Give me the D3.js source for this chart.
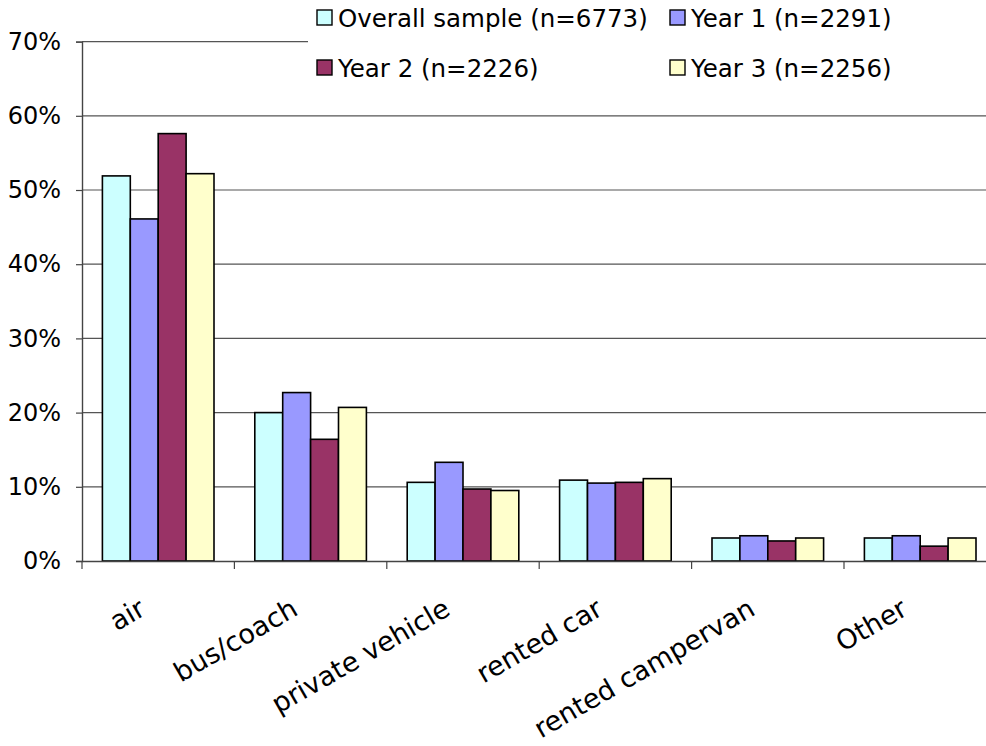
<!DOCTYPE html>
<html>
<head>
<meta charset="utf-8">
<script src="https://cdn.jsdelivr.net/npm/d3@7"></script>
<style>
  body { margin: 0; background: #fff; }
  text { font-family: "DejaVu Sans", sans-serif; fill: #000; }
</style>
</head>
<body>
<script>
// values in percent
const categories = ["air", "bus/coach", "private vehicle", "rented car", "rented campervan", "Other"];
const seriesNames = ["Overall sample (n=6773)", "Year 1 (n=2291)", "Year 2 (n=2226)", "Year 3 (n=2256)"];
const overall = [51.9, 20.0, 10.6, 10.9, 3.1, 3.1];
const year1 = [46.1, 22.7, 13.3, 10.5, 3.4, 3.4];
const year2 = [57.6, 16.4, 9.7, 10.6, 2.7, 2.0];
const year3 = [52.2, 20.7, 9.5, 11.1, 3.1, 3.1];
const yTicks = [0, 10, 20, 30, 40, 50, 60, 70];
const colors = ["#ccffff", "#9999ff", "#993366", "#ffffcc"];

const allSeries = [overall, year1, year2, year3];

const width = 986, height = 746;
const plotLeft = 82, plotBottom = 561, plotTop = 41.6;
const band = 152.4;

const svg = d3.select("body").append("svg")
    .attr("width", width)
    .attr("height", height);

const x = d3.scaleBand()
    .domain(categories)
    .range([plotLeft, plotLeft + band * categories.length])
    .padding(0);

const inner = d3.scaleBand()
    .domain(d3.range(seriesNames.length))
    .range([(band - 111.6) / 2, (band + 111.6) / 2]);

const y = d3.scaleLinear()
    .domain([0, 70])
    .range([plotBottom, plotTop]);

// gridlines
svg.append("g")
    .selectAll("line")
    .data(yTicks.slice(1))
    .enter().append("line")
    .attr("x1", plotLeft)
    .attr("x2", plotLeft + band * categories.length)
    .attr("y1", (d) => y(d))
    .attr("y2", (d) => y(d))
    .attr("stroke", "#555")
    .attr("stroke-width", 1.2);

// bars
const groups = svg.append("g")
    .selectAll("g")
    .data(categories)
    .enter().append("g")
    .attr("transform", (d) => `translate(${x(d)},0)`);

groups.selectAll("rect")
    .data((d, i) => allSeries.map((s, k) => ({ k: k, v: s[i] })))
    .enter().append("rect")
    .attr("x", (d) => inner(d.k))
    .attr("width", inner.bandwidth())
    .attr("y", (d) => y(d.v))
    .attr("height", (d) => plotBottom - y(d.v))
    .attr("fill", (d) => colors[d.k])
    .attr("stroke", "#000")
    .attr("stroke-width", 1.6);

// y axis
const yAxis = svg.append("g")
    .attr("transform", `translate(${plotLeft},0)`)
    .call(d3.axisLeft(y).tickValues(yTicks).tickSize(6).tickPadding(15).tickFormat((d) => d + "%"));
yAxis.select(".domain").attr("stroke", "#444").attr("stroke-width", 1.4);
yAxis.selectAll(".tick line").attr("stroke", "#444").attr("stroke-width", 1.2);
yAxis.selectAll("text").style("font-size", "24px").attr("fill", "#000");

// x axis
const xAxis = svg.append("g")
    .attr("transform", `translate(0,${plotBottom})`)
    .call(d3.axisBottom(x).tickSize(0).tickFormat(""));
xAxis.select(".domain").attr("stroke", "#444").attr("stroke-width", 1.4);

svg.append("g")
    .selectAll("line")
    .data(categories)
    .enter().append("line")
    .attr("x1", (d) => x(d))
    .attr("x2", (d) => x(d))
    .attr("y1", plotBottom)
    .attr("y2", plotBottom + 8)
    .attr("stroke", "#444")
    .attr("stroke-width", 1.2);

svg.append("g")
    .selectAll("text")
    .data(categories)
    .enter().append("text")
    .attr("transform", (d) => `translate(${x(d) + band / 2 - 11},614) rotate(-30)`)
    .attr("text-anchor", "end")
    .style("font-size", "27px")
    .text((d) => d);

// legend
const legend = svg.append("g");
legend.append("rect")
    .attr("x", 308)
    .attr("y", 0)
    .attr("width", width - 308)
    .attr("height", 92)
    .attr("fill", "#fff");

const legendPos = [[317, 18], [670, 18], [317, 68], [670, 68]];
const items = legend.selectAll("g")
    .data(seriesNames)
    .enter().append("g")
    .attr("transform", (d, i) => `translate(${legendPos[i][0]},${legendPos[i][1]})`);

items.append("rect")
    .attr("x", 0)
    .attr("y", -8)
    .attr("width", 15)
    .attr("height", 15)
    .attr("fill", (d, i) => colors[i])
    .attr("stroke", "#000")
    .attr("stroke-width", 1.4);

items.append("text")
    .attr("x", 21)
    .attr("dy", "0.36em")
    .style("font-size", "24.5px")
    .text((d) => d);
</script>
</body>
</html>
